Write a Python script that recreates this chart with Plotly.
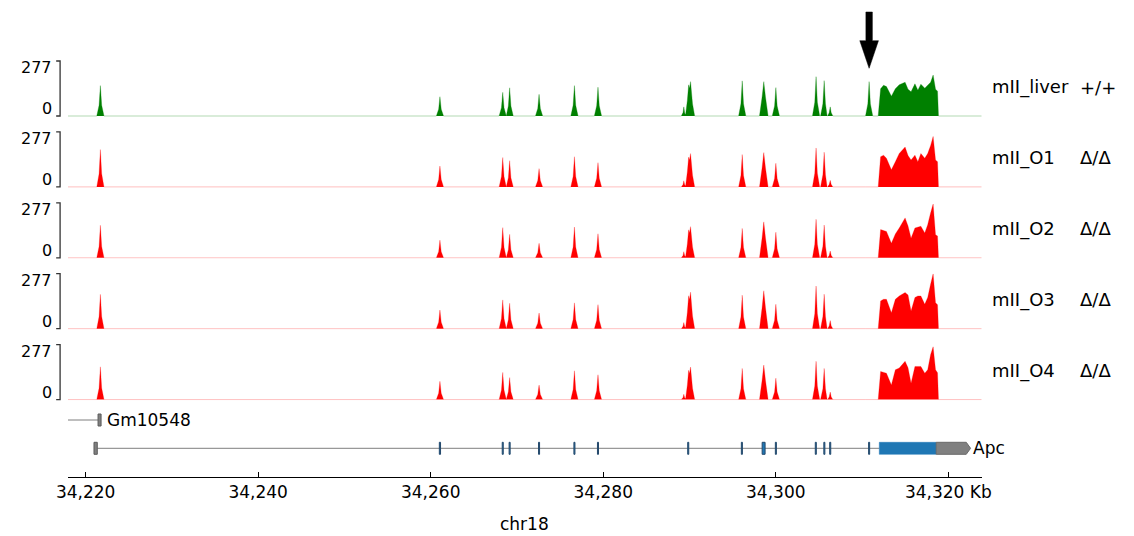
import plotly.graph_objects as go

# ---------------- coverage (chr18, kb) ----------------
# knot positions shared by the five coverage tracks
POS_KB = [
    34217.95,
    # Gm10548 promoter
    34221.29, 34221.56, 34221.71, 34221.86, 34222.13,
    # Apc exons
    34260.65, 34260.92, 34261.07, 34261.22, 34261.49,
    34267.93, 34268.20, 34268.35, 34268.50, 34268.72,
    34268.76, 34269.00, 34269.15, 34269.30, 34269.57,
    34272.14, 34272.41, 34272.56, 34272.71, 34272.98,
    34276.24, 34276.51, 34276.66, 34276.81, 34277.08,
    34278.97, 34279.24, 34279.39, 34279.54, 34279.81,
    34289.05, 34289.25, 34289.34, 34289.45, 34289.55, 34289.75,
    34289.90, 34290.00, 34290.12, 34290.35, 34290.60,
    34295.69, 34295.96, 34296.11, 34296.26, 34296.53,
    34298.11, 34298.41, 34298.61, 34298.81, 34299.11,
    34299.59, 34299.86, 34300.01, 34300.16, 34300.43,
    34304.25, 34304.52, 34304.67, 34304.82, 34305.09,
    34305.19, 34305.46, 34305.61, 34305.76, 34305.95,
    34306.00, 34306.19, 34306.31, 34306.43, 34306.62,
    34310.40, 34310.67, 34310.82, 34310.97, 34311.24,
    # last exon block
    34311.87, 34312.15, 34312.49, 34312.83, 34313.40, 34313.86, 34314.31,
    34314.99, 34315.33, 34315.68, 34316.13, 34316.47, 34316.82, 34317.27,
    34317.61, 34317.95, 34318.24, 34318.52, 34318.75, 34318.86,
    34323.87,
]

LIVER_COV = [
    0,
    0, 54, 153, 54, 0,
    0, 34, 97, 34, 0,
    0, 42, 119, 42, 0,
    0, 50, 142, 50, 0,
    0, 38, 109, 38, 0,
    0, 54, 153, 54, 0,
    0, 51, 145, 51, 0,
    0, 18, 46, 14, 8, 78, 157, 140, 173, 61, 0,
    0, 62, 177, 62, 0,
    0, 95, 173, 95, 0,
    0, 50, 143, 50, 0,
    0, 69, 198, 69, 0,
    0, 62, 178, 62, 0,
    0, 16, 46, 16, 0,
    0, 61, 173, 61, 0,
    0, 137, 155, 148, 100, 137, 157, 170, 135, 122, 162, 130, 160, 140,
    155, 170, 206, 135, 125, 0,
    0,
]

O1_COV = [
    0,
    0, 66, 188, 66, 0,
    0, 37, 105, 37, 0,
    0, 52, 148, 52, 0,
    0, 46, 132, 46, 0,
    0, 32, 92, 32, 0,
    0, 53, 152, 53, 0,
    0, 43, 122, 43, 0,
    0, 12, 31, 9, 6, 76, 150, 135, 168, 59, 0,
    0, 57, 163, 57, 0,
    0, 95, 173, 95, 0,
    0, 42, 119, 42, 0,
    0, 69, 196, 69, 0,
    0, 61, 175, 61, 0,
    0, 12, 33, 12, 0,
    0, 0, 0, 0, 0,
    0, 152, 160, 144, 86, 127, 168, 201, 158, 135, 160, 127, 168, 144,
    168, 209, 254, 135, 127, 0,
    0,
]

O2_COV = [
    0,
    0, 57, 164, 57, 0,
    0, 31, 89, 31, 0,
    0, 53, 152, 53, 0,
    0, 41, 118, 41, 0,
    0, 26, 73, 26, 0,
    0, 54, 155, 54, 0,
    0, 42, 121, 42, 0,
    0, 12, 31, 9, 6, 71, 141, 126, 157, 55, 0,
    0, 52, 148, 52, 0,
    0, 100, 181, 100, 0,
    0, 45, 129, 45, 0,
    0, 68, 194, 68, 0,
    0, 58, 165, 58, 0,
    0, 12, 34, 12, 0,
    0, 0, 0, 0, 0,
    0, 142, 138, 133, 73, 120, 150, 201, 160, 99, 150, 155, 159, 125,
    167, 227, 271, 116, 110, 0,
    0,
]

O3_COV = [
    0,
    0, 61, 173, 61, 0,
    0, 33, 94, 33, 0,
    0, 51, 145, 51, 0,
    0, 45, 128, 45, 0,
    0, 28, 79, 28, 0,
    0, 46, 130, 46, 0,
    0, 42, 121, 42, 0,
    0, 12, 31, 9, 6, 83, 166, 147, 184, 64, 0,
    0, 59, 169, 59, 0,
    0, 105, 191, 105, 0,
    0, 43, 123, 43, 0,
    0, 75, 215, 75, 0,
    0, 61, 174, 61, 0,
    0, 14, 41, 14, 0,
    0, 0, 0, 0, 0,
    0, 140, 148, 148, 80, 148, 165, 182, 170, 89, 157, 165, 165, 123,
    157, 225, 277, 131, 120, 0,
    0,
]

O4_COV = [
    0,
    0, 58, 165, 58, 0,
    0, 32, 92, 32, 0,
    0, 48, 137, 48, 0,
    0, 39, 111, 39, 0,
    0, 26, 73, 26, 0,
    0, 51, 145, 51, 0,
    0, 44, 125, 44, 0,
    0, 11, 27, 8, 5, 74, 148, 131, 164, 57, 0,
    0, 55, 157, 55, 0,
    0, 96, 174, 96, 0,
    0, 38, 108, 38, 0,
    0, 68, 193, 68, 0,
    0, 55, 157, 55, 0,
    0, 13, 38, 13, 0,
    0, 0, 0, 0, 0,
    0, 142, 138, 133, 73, 150, 159, 193, 160, 82, 167, 167, 167, 133,
    150, 227, 266, 150, 135, 0,
    0,
]

TRACK_NAMES = ["mII_liver", "mII_O1", "mII_O2", "mII_O3", "mII_O4"]
TRACK_GENOTYPES = ["+/+", "Δ/Δ", "Δ/Δ", "Δ/Δ", "Δ/Δ"]
TRACK_DATA = [LIVER_COV, O1_COV, O2_COV, O3_COV, O4_COV]
TRACK_COLORS = ["#008000", "#ff0000", "#ff0000", "#ff0000", "#ff0000"]
TRACK_PALE = ["rgba(0,128,0,0.30)", "rgba(255,0,0,0.25)", "rgba(255,0,0,0.25)",
              "rgba(255,0,0,0.25)", "rgba(255,0,0,0.25)"]
Y_MAX = 277

# ---------------- gene models (kb) ----------------
GM10548_NAME = "Gm10548"
GM10548_EXON = (34221.44, 34221.79)
APC_NAME = "Apc"
APC_UTR5 = (34220.97, 34221.35)
APC_EXON_STARTS = [34261.00, 34268.29, 34269.09, 34272.50, 34276.60, 34279.33,
                   34289.79, 34296.01, 34298.42, 34299.95, 34304.58, 34305.57,
                   34306.25, 34310.76]
APC_EXON_ENDS = [34261.14, 34268.41, 34269.21, 34272.62, 34276.72, 34279.45,
                 34289.91, 34296.13, 34298.76, 34300.07, 34304.70, 34305.69,
                 34306.37, 34310.88]
APC_CDS_LAST = (34312.00, 34318.60)
APC_UTR3 = (34318.60, 34322.08)
APC_TIP_KB = 34322.58

# marked exon
ARROW_KB = 34310.82

# axis
X_RANGE = [34217.95, 34323.87]
TICK_KB = [34220, 34240, 34260, 34280, 34300, 34320]
TICK_TEXT = ["34,220", "34,240", "34,260", "34,280", "34,300", "34,320 Kb"]
CHROM = "chr18"

# ---------------- layout geometry (pixels) ----------------
W, H = 1134, 536
PLOT_L, PLOT_R = 57, 988
BASE0, STEP = 116.0, 70.9       # baseline of first track, spacing
TRACK_PX = 55.0                 # pixels for 0..Y_MAX
Y_PAD = 5                       # data units below zero kept visible
AXIS_Y = 477
FONT = "DejaVu Sans"
KB_PER_PX = (X_RANGE[1] - X_RANGE[0]) / (PLOT_R - PLOT_L)


def fx(p):
    return p / W


def fy(p):
    return 1 - p / H


fig = go.Figure()
layout_axes = {}
shapes = []
annotations = []

for i, (name, geno, cov, col, pale) in enumerate(
        zip(TRACK_NAMES, TRACK_GENOTYPES, TRACK_DATA, TRACK_COLORS, TRACK_PALE)):
    yref = "y" if i == 0 else f"y{i + 1}"
    ykey = "yaxis" if i == 0 else f"yaxis{i + 1}"
    fig.add_trace(go.Scatter(
        x=POS_KB, y=cov, xaxis="x", yaxis=yref, mode="lines",
        fill="tozeroy", fillcolor=col, line=dict(color=pale, width=1),
        hoverinfo="skip", showlegend=False))
    base = BASE0 + STEP * i
    top = base - TRACK_PX
    low = base + Y_PAD * TRACK_PX / Y_MAX
    layout_axes[ykey] = dict(domain=[fy(low), fy(top)], range=[-Y_PAD, Y_MAX],
                             visible=False, anchor="x", fixedrange=True)
    # scale bracket
    shapes.append(dict(
        type="path", xref="paper", yref="paper",
        path=f"M {fx(45)},{fy(top)} L {fx(49)},{fy(top)} L {fx(49)},{fy(base)} L {fx(45)},{fy(base)}",
        line=dict(color="#333333", width=1.3)))
    annotations.append(dict(text=str(Y_MAX), x=fx(43), y=fy(top + 6.5), xref="paper", yref="paper",
                            xanchor="right", yanchor="middle", showarrow=False,
                            font=dict(family=FONT, size=16, color="black")))
    annotations.append(dict(text="0", x=fx(43), y=fy(base - 7.5), xref="paper", yref="paper",
                            xanchor="right", yanchor="middle", showarrow=False,
                            font=dict(family=FONT, size=16, color="black")))
    # track titles
    annotations.append(dict(text=name, x=fx(996), y=fy(base - 29), xref="paper", yref="paper",
                            xanchor="left", yanchor="middle", showarrow=False,
                            font=dict(family=FONT, size=18, color="black")))
    annotations.append(dict(text=geno, x=fx(1086), y=fy(base - 29), xref="paper", yref="paper",
                            xanchor="left", yanchor="middle", showarrow=False,
                            font=dict(family=FONT, size=18, color="black")))

# ---------------- gene track ----------------
GM_Y, APC_Y, EXON_H = 420.0, 448.3, 12.0
INTRON = dict(color="#7f7f7f", width=1)

# Gm10548
shapes.append(dict(type="line", xref="x", yref="paper", x0=X_RANGE[0], x1=GM10548_EXON[0],
                   y0=fy(GM_Y), y1=fy(GM_Y), line=INTRON))
shapes.append(dict(type="rect", xref="x", yref="paper", x0=GM10548_EXON[0], x1=GM10548_EXON[1],
                   y0=fy(GM_Y + EXON_H / 2), y1=fy(GM_Y - EXON_H / 2),
                   fillcolor="#808080", line=dict(color="#5a5a5a", width=1)))
annotations.append(dict(text=GM10548_NAME, x=GM10548_EXON[1] + 3.5 * KB_PER_PX, y=fy(GM_Y),
                        xref="x", yref="paper", xanchor="left", yanchor="middle",
                        showarrow=False, font=dict(family=FONT, size=17, color="black")))

# Apc
shapes.append(dict(type="line", xref="x", yref="paper", x0=APC_UTR5[1], x1=APC_CDS_LAST[0],
                   y0=fy(APC_Y), y1=fy(APC_Y), line=INTRON))
shapes.append(dict(type="rect", xref="x", yref="paper", x0=APC_UTR5[0], x1=APC_UTR5[1],
                   y0=fy(APC_Y + EXON_H / 2), y1=fy(APC_Y - EXON_H / 2),
                   fillcolor="#808080", line=dict(color="#5a5a5a", width=1)))
for s, e in zip(APC_EXON_STARTS, APC_EXON_ENDS):
    shapes.append(dict(type="rect", xref="x", yref="paper", x0=s, x1=e,
                       y0=fy(APC_Y + EXON_H / 2), y1=fy(APC_Y - EXON_H / 2),
                       fillcolor="#1f77b4", line=dict(color="#24486a", width=1)))
shapes.append(dict(type="rect", xref="x", yref="paper", x0=APC_CDS_LAST[0], x1=APC_CDS_LAST[1],
                   y0=fy(APC_Y + EXON_H / 2), y1=fy(APC_Y - EXON_H / 2),
                   fillcolor="#1f77b4", line=dict(color="#1f77b4", width=0.5)))
shapes.append(dict(
    type="path", xref="x", yref="paper",
    path=(f"M {APC_UTR3[0]},{fy(APC_Y + EXON_H / 2)} L {APC_UTR3[1]},{fy(APC_Y + EXON_H / 2)} "
          f"L {APC_TIP_KB},{fy(APC_Y)} L {APC_UTR3[1]},{fy(APC_Y - EXON_H / 2)} "
          f"L {APC_UTR3[0]},{fy(APC_Y - EXON_H / 2)} Z"),
    fillcolor="#808080", line=dict(color="#6a6a6a", width=1)))
annotations.append(dict(text=APC_NAME, x=APC_TIP_KB + 0.1, y=fy(APC_Y), xref="x", yref="paper",
                        xanchor="left", yanchor="middle", showarrow=False,
                        font=dict(family=FONT, size=17, color="black")))

# ---------------- arrow over the marked exon ----------------
sh, hh = 3.3 * KB_PER_PX, 9.5 * KB_PER_PX
shapes.append(dict(
    type="path", xref="x", yref="paper",
    path=(f"M {ARROW_KB - sh},{fy(12)} L {ARROW_KB + sh},{fy(12)} L {ARROW_KB + sh},{fy(40.7)} "
          f"L {ARROW_KB + hh},{fy(40.7)} L {ARROW_KB},{fy(68.3)} L {ARROW_KB - hh},{fy(40.7)} "
          f"L {ARROW_KB - sh},{fy(40.7)} Z"),
    fillcolor="black", line=dict(color="black", width=0.5)))

# chromosome label
annotations.append(dict(text=CHROM, x=fx((PLOT_L + PLOT_R) / 2), y=fy(524), xref="paper", yref="paper",
                        xanchor="center", yanchor="middle", showarrow=False,
                        font=dict(family=FONT, size=17, color="black")))

fig.update_layout(
    width=W, height=H,
    margin=dict(l=0, r=0, t=0, b=0),
    paper_bgcolor="white", plot_bgcolor="white",
    showlegend=False,
    xaxis=dict(domain=[fx(PLOT_L), fx(PLOT_R)], range=X_RANGE, anchor="free",
               position=fy(AXIS_Y), showline=True, linecolor="black", linewidth=1,
               ticks="inside", ticklen=5, tickwidth=1, tickcolor="black",
               tickmode="array", tickvals=TICK_KB, ticktext=TICK_TEXT,
               tickfont=dict(family=FONT, size=17, color="black"),
               showgrid=False, zeroline=False, fixedrange=True),
    shapes=shapes,
    annotations=annotations,
    **layout_axes,
)

fig.write_html("out.html")
